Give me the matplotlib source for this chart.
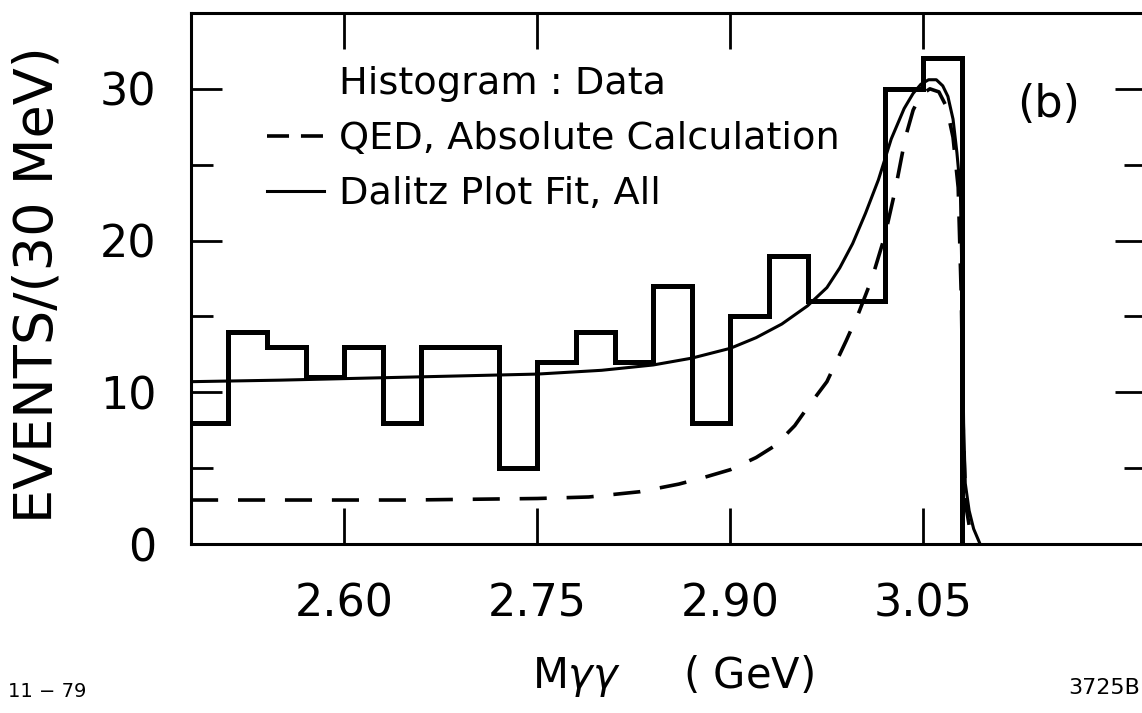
import matplotlib
matplotlib.use("Agg")
import matplotlib.pyplot as plt
from matplotlib.lines import Line2D

# ---------------- data ----------------
bin_edges = [2.48, 2.51, 2.54, 2.57, 2.60, 2.63, 2.66, 2.69, 2.72, 2.75, 2.78,
             2.81, 2.84, 2.87, 2.90, 2.93, 2.96, 2.99, 3.02, 3.05, 3.08]
counts = [8, 14, 13, 11, 13, 8, 13, 13, 5, 12, 14, 12, 17, 8, 15, 19, 16, 16, 30, 32]

qed_mass = [2.481, 2.55, 2.60, 2.65, 2.70, 2.75, 2.79, 2.83, 2.86, 2.88, 2.90,
            2.92, 2.935, 2.95, 2.96, 2.975, 2.99, 3.00, 3.01, 3.02, 3.028, 3.036,
            3.042, 3.048, 3.055, 3.062, 3.068, 3.073, 3.077, 3.0795, 3.081, 3.083,
            3.087, 3.090]
qed_events = [2.9, 2.9, 2.9, 2.9, 2.95, 3.0, 3.1, 3.45, 3.95, 4.4, 4.9,
              5.7, 6.5, 7.8, 9.0, 10.7, 13.4, 15.3, 17.5, 20.3, 23.3, 26.8,
              28.6, 29.6, 30.0, 29.8, 28.8, 26.8, 23.5, 16.0, 7.0, 2.5,
              0.5, 0.0]

fit_mass = [2.481, 2.55, 2.60, 2.65, 2.70, 2.75, 2.80, 2.84, 2.87, 2.90, 2.92,
            2.94, 2.96, 2.975, 2.985, 2.995, 3.005, 3.015, 3.025, 3.035, 3.042,
            3.048, 3.054, 3.060, 3.065, 3.069, 3.073, 3.076, 3.0787, 3.080,
            3.0812, 3.0825, 3.0855, 3.089, 3.094]
fit_events = [10.7, 10.8, 10.9, 11.0, 11.1, 11.2, 11.45, 11.8, 12.25, 12.9, 13.6,
              14.5, 15.7, 16.9, 18.2, 19.8, 21.8, 24.0, 26.7, 28.7, 29.7,
              30.3, 30.6, 30.6, 30.2, 29.5, 28.0, 25.8, 23.3, 17.0,
              8.0, 4.0, 2.2, 1.0, 0.0]

x_ticks = [2.60, 2.75, 2.90, 3.05]
x_tick_labels = ["2.60", "2.75", "2.90", "3.05"]
y_ticks = [0, 10, 20, 30]
y_tick_labels = ["0", "10", "20", "30"]
y_minor_ticks = [5, 15, 25]

legend_labels = ["Histogram : Data", "QED, Absolute Calculation", "Dalitz Plot Fit, All"]

# ---------------- figure ----------------
plt.rcParams['font.family'] = ['DejaVu Sans']
fig = plt.figure(figsize=(11.42, 7.13), dpi=100)
ax = fig.add_axes([0.1673, 0.237, 0.8363, 0.7448])

ax.stairs(counts, bin_edges, baseline=0, color='black', linewidth=3.6)
ax.plot(qed_mass, qed_events, color='black', linewidth=2.6,
        dashes=(7.5, 5.5), solid_capstyle='butt')
ax.plot(fit_mass, fit_events, color='black', linewidth=2.2)

ax.set_xlim(2.481, 3.223)
ax.set_ylim(0, 35)

ax.set_xticks(x_ticks, labels=x_tick_labels)
ax.set_yticks(y_ticks, labels=y_tick_labels)
ax.set_yticks(y_minor_ticks, minor=True)
ax.tick_params(axis='x', which='major', direction='in', length=26, width=2,
               top=True, bottom=True, pad=28, labelsize=32)
ax.tick_params(axis='x', which='minor', bottom=False, top=False)
ax.tick_params(axis='y', which='major', direction='in', length=22, width=2,
               left=True, right=True, pad=25, labelsize=32)
ax.tick_params(axis='y', which='minor', direction='in', length=16, width=2,
               left=True, right=True)
for s in ax.spines.values():
    s.set_linewidth(2.2)

ax.set_xlabel(r"M$\gamma\gamma$     ( GeV)", fontsize=30)
ax.xaxis.set_label_coords(0.505, -0.205)
ax.set_ylabel("EVENTS/(30 MeV)", fontsize=39)
ax.yaxis.set_label_coords(-0.134, 0.488)

blank = Line2D([], [], color='none')
leg_dash = Line2D([], [], color='black', linewidth=2.6, dashes=(6.1, 3.3))
leg_solid = Line2D([], [], color='black', linewidth=2.2)
ax.legend([blank, leg_dash, leg_solid], legend_labels, loc='upper left',
          bbox_to_anchor=(0.08, 0.900), frameon=False, fontsize=27.5,
          handlelength=1.49, handletextpad=0.39, labelspacing=0.5,
          borderpad=0, borderaxespad=0)

ax.text(0.898, 0.827, "(b)", transform=ax.transAxes, fontsize=32,
        ha='center', va='center')

fig.text(0.007, 0.022, "11 − 79", fontsize=14, ha='left', va='baseline')
fig.text(0.998, 0.026, "3725B", fontsize=16, ha='right', va='baseline')

fig.savefig("out.png", dpi=100)
